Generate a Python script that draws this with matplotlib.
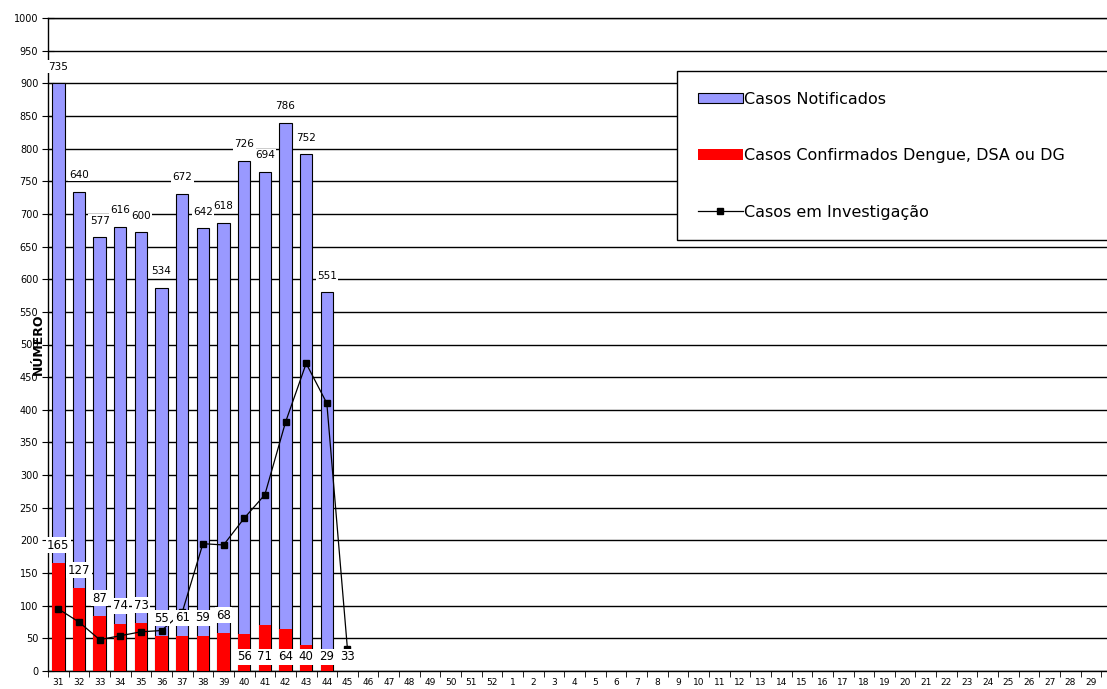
import matplotlib
matplotlib.use("Agg")
import matplotlib.pyplot as plt
from matplotlib.patches import Patch
from matplotlib.lines import Line2D
import numpy as np

# semanas epidemiologicas (31..52 de um ano, 1..30 do seguinte)
semanas = [str(s) for s in range(31, 53)] + [str(s) for s in range(1, 31)]

# casos notificados (altura da barra) e rotulos mostrados
notificados = [900, 734, 664, 680, 672, 587, 731, 678, 686, 781, 764, 839, 791, 580]
notificados_rot = [735, 640, 577, 616, 600, 534, 672, 642, 618, 726, 694, 786, 752, 551]

# casos confirmados dengue, DSA ou DG
confirmados = [165, 127, 84, 72, 73, 53, 54, 54, 58, 56, 71, 64, 40, 29]
confirmados_rot = [165, 127, 87, 74, 73, 55, 61, 59, 68, 56, 71, 64, 40, 29, 33]

# casos em investigacao
investigacao = [95, 75, 48, 54, 60, 62, 90, 195, 193, 234, 270, 381, 471, 410, 33]

azul = "#9999ff"
vermelho = "#ff0000"

fig = plt.figure(figsize=(11.07, 6.89), dpi=100)
ax = fig.add_axes([48 / 1107, 18 / 689, 1074 / 1107, 653 / 689])

x = np.arange(len(semanas))
xn = x[:len(notificados)]
xc = x[:len(confirmados)]
xi = x[:len(investigacao)]

ax.bar(xn, notificados, width=0.6, color=azul, edgecolor="black", linewidth=0.8, zorder=2)
ax.bar(xc, confirmados, width=0.6, color=vermelho, edgecolor="none", zorder=3)
ax.plot(xi, investigacao, color="black", lw=0.9, marker="s", markersize=5, zorder=4)

box = dict(facecolor="white", edgecolor="none", pad=1.0)
for xx, yy, r in zip(xn, notificados, notificados_rot):
    ax.annotate(str(r), (xx, yy), xytext=(0, 12), textcoords="offset points",
                ha="center", va="center", fontsize=7.5, bbox=box, zorder=6)

for i, r in enumerate(confirmados_rot):
    if i < 9:
        ax.annotate(str(r), (x[i], confirmados[i]), xytext=(0, 13), textcoords="offset points",
                    ha="center", va="center", fontsize=8.5, bbox=box, zorder=6)
    else:
        ax.text(x[i], 22, str(r), ha="center", va="center", fontsize=8.5, bbox=box, zorder=6)

ax.set_xlim(-0.5, len(semanas) - 0.5)
ax.set_ylim(0, 1000)
ax.set_yticks(range(0, 1001, 50))
ax.set_xticks(x)
ax.set_xticklabels(semanas, fontsize=6.5)
ax.set_xticks(np.arange(-0.5, len(semanas), 1), minor=True)
ax.tick_params(axis="x", which="major", length=0, pad=5)
ax.tick_params(axis="x", which="minor", length=4, direction="out", color="black")
ax.tick_params(axis="y", labelsize=7, direction="inout", length=8, width=0.8, pad=3)

ax.yaxis.grid(True, color="black", lw=1.0)
ax.set_axisbelow(True)
for s in ax.spines.values():
    s.set_color("black")
    s.set_linewidth(1.0)

ax.set_ylabel("NÚMERO", fontsize=9, fontweight="bold")
ax.yaxis.set_label_coords(-0.003, 0.5)

handles = [
    Patch(facecolor=azul, edgecolor="black", linewidth=0.8),
    Patch(facecolor=vermelho, edgecolor="none"),
    Line2D([0], [0], color="black", lw=0.9, marker="s", markersize=4),
]
labels = ["Casos Notificados", "Casos Confirmados Dengue, DSA ou DG", "Casos em Investigação"]
leg = ax.legend(handles, labels, loc="upper left", bbox_to_anchor=(0.586, 0.664, 0.45, 0.255),
                mode="expand", fontsize=11.5, frameon=True, fancybox=False, framealpha=1,
                edgecolor="black", labelspacing=2.6, borderpad=1.3, handlelength=2.8,
                handleheight=0.6, handletextpad=0.1, borderaxespad=0)
leg.get_frame().set_linewidth(1.0)
leg.set_zorder(10)

fig.savefig("out.png", dpi=100)
